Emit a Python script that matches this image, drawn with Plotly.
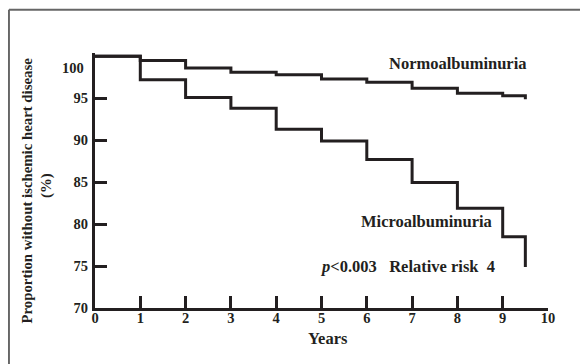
import plotly.graph_objects as go

# Data (Kaplan-Meier style step curves, % without ischemic heart disease)
years_normo = [0, 1, 2, 3, 4, 5, 6, 7, 8, 9, 9.5]
normo = [100, 99.5, 98.6, 98.1, 97.8, 97.3, 96.9, 96.2, 95.6, 95.3, 94.9]
years_micro = [0, 1, 2, 3, 4, 5, 6, 7, 8, 9, 9.5]
micro = [100, 97.2, 95.1, 93.8, 91.3, 89.9, 87.7, 84.95, 81.9, 78.5, 74.9]

x_ticks = [0, 1, 2, 3, 4, 5, 6, 7, 8, 9, 10]
y_ticks = [70, 75, 80, 85, 90, 95]

INK = "#231f20"
TICKFONT = dict(family="Liberation Serif", size=14.5, color=INK, weight="bold")
FONT = dict(family="Liberation Serif", size=16.5, color=INK, weight="bold")
TITLEFONT = dict(family="Liberation Serif", size=14.8, color=INK, weight="bold")

fig = go.Figure()
for xs, ys in [(years_normo, normo), (years_micro, micro)]:
    fig.add_trace(go.Scatter(x=xs, y=ys, mode="lines", line=dict(shape="hv", color=INK, width=3),
                             showlegend=False, hoverinfo="skip", cliponaxis=False))

fig.update_layout(
    width=588, height=364,
    margin=dict(l=87, r=48, t=45, b=64),
    paper_bgcolor="white", plot_bgcolor="white",
    font=FONT,
    xaxis=dict(range=[0, 10], tickvals=x_ticks, ticktext=[str(v) for v in x_ticks],
               showgrid=False, zeroline=False, showline=True, linecolor=INK, linewidth=3,
               ticks="inside", ticklen=12, tickwidth=3, tickcolor=INK, tickfont=TICKFONT,
               ticklabelstandoff=-5),
    yaxis=dict(range=[70, 100.4], tickvals=y_ticks, ticktext=[str(v) for v in y_ticks],
               showgrid=False, zeroline=False, showline=True, linecolor=INK, linewidth=3,
               ticks="inside", ticklen=12, tickwidth=3, tickcolor=INK, tickfont=TICKFONT,
               ticklabelstandoff=1),
)

# frame
fig.add_shape(type="line", xref="paper", yref="paper", x0=-0.19, x1=-0.19, y0=1.17, y1=-0.5,
              line=dict(color="#666666", width=2))
fig.add_shape(type="line", xref="paper", yref="paper", x0=-0.19, x1=1.3, y0=1.17, y1=1.17,
              line=dict(color="#666666", width=2))

ann = dict(showarrow=False, font=FONT)
fig.add_annotation(x=-0.0195, y=98.6, xref="paper", yref="y", text="100", xanchor="right", yanchor="middle",
                   showarrow=False, font=TICKFONT)
fig.add_annotation(x=8.02, y=99.2, text="Normoalbuminuria", xanchor="center", yanchor="middle", **ann)
fig.add_annotation(x=7.32, y=80.26, text="Microalbuminuria", xanchor="center", yanchor="middle", **ann)
fig.add_annotation(x=4.92, y=74.94, text="<i>p</i><0.003   Relative risk  4", xanchor="left", yanchor="middle", **ann)
fig.add_annotation(x=0.514, y=-0.12, xref="paper", yref="paper", text="Years", xanchor="center", yanchor="middle", **ann)
fig.add_annotation(x=(26.5 - 95) / 453, y=(308 - 191) / 255, xref="paper", yref="paper",
                   text="Proportion without ischemic heart disease", textangle=-90,
                   xanchor="center", yanchor="middle", showarrow=False, font=TITLEFONT)
fig.add_annotation(x=(47 - 95) / 453, y=(308 - 186) / 255, xref="paper", yref="paper",
                   text="(%)", textangle=-90, xanchor="center", yanchor="middle", showarrow=False, font=TITLEFONT)

fig.write_html("out.html")
